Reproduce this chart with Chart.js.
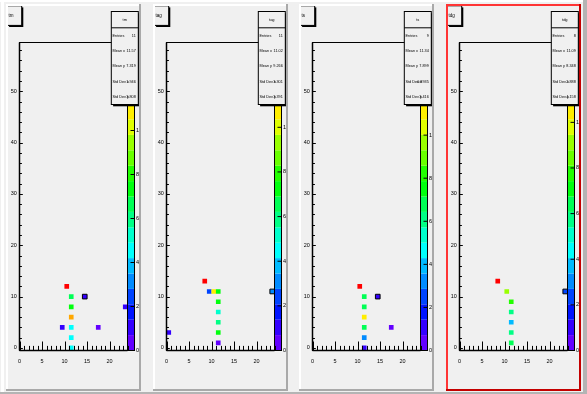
<!DOCTYPE html>
<html>
<head>
<meta charset="utf-8">
<script src="https://cdn.jsdelivr.net/npm/chart.js@4.4.1/dist/chart.umd.min.js"></script>
<style>
  html, body { margin: 0; padding: 0; background: #f0f0f0; }
  #canvas { position: relative; width: 587px; height: 394px; overflow: hidden; background: #f0f0f0; }
  .pad { position: absolute; top: 4px; }
  .edge { position: absolute; }
</style>
</head>
<body>
<div id="canvas">
  <div class="edge" style="left:0;top:0;width:587px;height:2px;background:#fff"></div>
  <div class="edge" style="left:1px;top:0;width:3px;height:394px;background:#fff"></div>
  <div class="edge" style="left:583px;top:0;width:4px;height:394px;background:#b4b4b4"></div>
  <div class="edge" style="left:0;top:392px;width:587px;height:2px;background:#b4b4b4"></div>
  <canvas id="pad1" class="pad" width="135" height="387" style="left:6px"></canvas>
  <canvas id="pad2" class="pad" width="135" height="387" style="left:153px"></canvas>
  <canvas id="pad3" class="pad" width="135" height="387" style="left:299px"></canvas>
  <canvas id="pad4" class="pad" width="135" height="387" style="left:446px"></canvas>
</div>
<script>
// axis ticks
const xTicks = [0, 5, 10, 15, 20];
const yTicks = [0, 10, 20, 30, 40, 50];
const titles = ["tm", "tag", "ts", "tdg"];

// pad 1
const p1X = [10.5, 11.5, 11.5, 11.5, 11.5, 11.5, 11.5, 9.5, 17.5, 14.5, 23.5];
const p1Y = [12, 10, 8, 6, 4, 2, 0, 4, 4, 10, 8];
const p1Z = [14.0, 6.6, 7.3, 11.6, 4.5, 4.4, 4.6, 1.0, 0.4, 1.1, 1.2];
const p1Box = [0, 0, 0, 0, 0, 0, 0, 0, 0, 1, 0];

// pad 2
const p2X = [8.5, 9.5, 10.5, 11.5, 11.5, 11.5, 11.5, 11.5, 11.5, 0.5, 23.5];
const p2Y = [13, 11, 11, 11, 9, 7, 5, 3, 1, 3, 11];
const p2Z = [13.8, 2.4, 10.7, 7.2, 7.3, 5.2, 5.9, 7.1, 0.3, 1.0, 3.1];
const p2Box = [0, 0, 0, 0, 0, 0, 0, 0, 0, 0, 1];

// pad 3
const p3X = [10.5, 11.5, 11.5, 11.5, 11.5, 11.5, 11.5, 14.5, 17.5];
const p3Y = [12, 10, 8, 6, 4, 2, 0, 10, 4];
const p3Z = [14.3, 6.8, 6.6, 11.1, 6.7, 3.2, 1.0, 1.1, 0.5];
const p3Box = [0, 0, 0, 0, 0, 0, 0, 1, 0];

// pad 4
const p4X = [8.5, 10.5, 11.5, 11.5, 11.5, 11.5, 11.5, 23.5];
const p4Y = [13, 11, 9, 7, 5, 3, 1, 11];
const p4Z = [13.5, 9.1, 7.8, 5.7, 3.7, 5.8, 6.4, 2.3];
const p4Box = [0, 0, 0, 0, 0, 0, 0, 1];

const NCONT = 20;

// ROOT "pretty" palette: 50 colours violet -> red, picked by 20 contours
function levelColor(k) {
  const idx = Math.floor((k + 0.99) * 50 / NCONT);
  const hue = 280 - (idx + 1) * 5.6;
  return "hsl(" + hue + ",100%,50%)";
}
function zColor(z, zmax) {
  let k = Math.floor(z / zmax * NCONT);
  if (k > NCONT - 1) k = NCONT - 1;
  return levelColor(k);
}

function stats(xs, ys, ws) {
  let sw = 0, sx = 0, sy = 0, sxx = 0, syy = 0;
  xs.forEach((x, i) => {
    const w = ws[i], y = ys[i];
    sw += w; sx += w * x; sy += w * y; sxx += w * x * x; syy += w * y * y;
  });
  const mx = sx / sw, my = sy / sw;
  return [
    ["Entries", String(xs.length)],
    ["Mean x", mx.toPrecision(4)],
    ["Mean y", my.toPrecision(4)],
    ["Std Dev x", Math.sqrt(Math.max(sxx / sw - mx * mx, 0)).toPrecision(4)],
    ["Std Dev y", Math.sqrt(Math.max(syy / sw - my * my, 0)).toPrecision(4)]
  ];
}

const FONT = '"Liberation Sans", Arial, sans-serif';

function line(c, x1, y1, x2, y2) {
  c.beginPath(); c.moveTo(x1, y1); c.lineTo(x2, y2); c.stroke();
}

const rootPad = {
  id: "rootPad",
  beforeDraw(chart) {
    const c = chart.ctx;
    c.save();
    c.fillStyle = "#f0f0f0";
    c.fillRect(0, 0, chart.width, chart.height);
    c.restore();
  },
  afterDraw(chart, args, o) {
    const c = chart.ctx, a = chart.chartArea;
    const xs = chart.scales.x, ys = chart.scales.y, zs = chart.scales.z;
    const W = chart.width, H = chart.height;
    c.save();

    // palette
    const pl = a.right, pr = Math.round(W * 0.95) + 0.5;
    for (let k = 0; k < NCONT; k++) {
      const y0 = zs.getPixelForValue(k * o.zmax / NCONT);
      const y1 = zs.getPixelForValue((k + 1) * o.zmax / NCONT);
      c.fillStyle = levelColor(k);
      c.fillRect(pl, y1, pr - pl, y0 - y1);
    }
    c.strokeStyle = "#000"; c.lineWidth = 1;
    c.strokeRect(pl, a.top, pr - pl, a.bottom - a.top);
    c.font = "5.5px " + FONT; c.fillStyle = "#000";
    c.textAlign = "left"; c.textBaseline = "middle";
    for (let z = 0; z <= o.zmax + 1e-9; z += 2) {
      const py = zs.getPixelForValue(z);
      line(c, pr, py, pr - 4, py);
      c.fillText(String(z), pr + 1.5, py);
    }

    // frame and axes
    c.lineWidth = 1;
    c.strokeRect(a.left, a.top, a.right - a.left, a.bottom - a.top);
    c.lineWidth = 1.5;
    line(c, a.left, a.bottom, a.right, a.bottom);
    line(c, a.left, a.top, a.left, a.bottom);
    c.lineWidth = 1;
    for (let v = 0; v <= 24; v++) {
      const px = Math.round(xs.getPixelForValue(v)) + 0.5;
      line(c, px, a.bottom, px, a.bottom - (v % 5 === 0 ? 9 : 4.6));
    }
    for (let v = 0; v <= 58; v += 2) {
      const py = Math.round(ys.getPixelForValue(v)) + 0.5;
      line(c, a.left, py, a.left + (v % 10 === 0 ? 3.3 : 2.4), py);
    }
    c.font = "5.5px " + FONT;
    c.textAlign = "center"; c.textBaseline = "middle";
    xTicks.forEach(v => c.fillText(String(v), xs.getPixelForValue(v), a.bottom + 11));
    c.textAlign = "right";
    yTicks.forEach(v => c.fillText(String(v), a.left - 2.7, ys.getPixelForValue(v)));

    // stats box
    const bx = W * 0.78, bw = W * 0.2, by = 7.5, bh = 93;
    c.fillStyle = "#000";
    c.fillRect(bx + 1.8, by + 1.8, bw, bh);
    c.fillStyle = "#f0f0f0";
    c.fillRect(bx, by, bw, bh);
    c.strokeStyle = "#000"; c.lineWidth = 1;
    c.strokeRect(bx, by, bw, bh);
    const sep = by + 16.3;
    line(c, bx, sep, bx + bw, sep);
    c.fillStyle = "#000";
    c.font = "4px " + FONT;
    c.textAlign = "center";
    c.fillText(o.name, bx + bw / 2, by + 8.5);
    const rowH = (by + bh - sep) / 5;
    c.font = "3.8px " + FONT;
    o.rows.forEach((r, i) => {
      const cy = sep + (i + 0.5) * rowH;
      c.textAlign = "left"; c.fillText(r[0], bx + 1.2, cy);
      c.textAlign = "right"; c.fillText(r[1], bx + bw - 2.5, cy);
    });

    // title box
    const tx = 1.5, ty = 1.8, tw = 14.2, th = 19.6;
    c.fillStyle = "#000";
    c.fillRect(tx + 1.6, ty + 1.6, tw, th);
    c.fillStyle = "#f0f0f0";
    c.fillRect(tx, ty, tw, th);
    c.strokeRect(tx, ty, tw, th);
    c.fillStyle = "#000";
    c.font = "4.5px " + FONT;
    c.textAlign = "left";
    c.fillText(o.title, tx + 1, ty + th / 2);

    // pad border
    c.fillStyle = o.active ? "#ff3535" : "#ffffff";
    c.fillRect(0, 0, W, 2); c.fillRect(0, 0, 2, H);
    c.fillStyle = o.active ? "#c40000" : "#a9a9a9";
    c.fillRect(0, H - 2, W, 2); c.fillRect(W - 2, 0, 2, H);
    c.restore();
  }
};

function makePad(id, title, xv, yv, zv, boxed, active) {
  const zmax = Math.max(...zv);
  new Chart(document.getElementById(id), {
    type: "scatter",
    data: {
      datasets: [{
        data: xv.map((x, i) => ({ x: x, y: yv[i] })),
        pointStyle: "rect",
        pointRadius: 3.3,
        pointHoverRadius: 3.3,
        pointBackgroundColor: zv.map(z => zColor(z, zmax)),
        pointBorderColor: boxed.map(b => b ? "#000" : "rgba(0,0,0,0)"),
        pointBorderWidth: boxed.map(b => b ? 1 : 0)
      }]
    },
    options: {
      responsive: false,
      animation: false,
      devicePixelRatio: 1,
      events: [],
      layout: { padding: { left: 13.5, right: 13.5, top: 38.5, bottom: 40.5 } },
      scales: {
        x: { type: "linear", min: 0, max: 24, display: false },
        y: { type: "linear", min: -0.5, max: 59.5, display: false },
        z: { type: "linear", min: 0, max: zmax, display: false, position: "right" }
      },
      plugins: {
        legend: { display: false },
        tooltip: { enabled: false },
        rootPad: {
          title: title, name: title, zmax: zmax, active: active,
          rows: stats(xv, yv, zv)
        }
      }
    },
    plugins: [rootPad]
  });
}

makePad("pad1", titles[0], p1X, p1Y, p1Z, p1Box, false);
makePad("pad2", titles[1], p2X, p2Y, p2Z, p2Box, false);
makePad("pad3", titles[2], p3X, p3Y, p3Z, p3Box, false);
makePad("pad4", titles[3], p4X, p4Y, p4Z, p4Box, true);
</script>
</body>
</html>
